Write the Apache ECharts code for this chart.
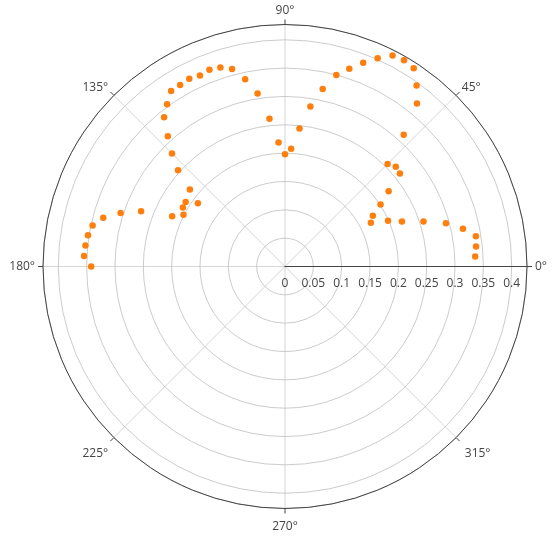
<!DOCTYPE html>
<html>
<head>
<meta charset="utf-8">
<script src="https://cdn.jsdelivr.net/npm/echarts@6/dist/echarts.min.js"></script>
<style>
html,body{margin:0;padding:0;background:#fff;}
#chart{width:552px;height:541px;}
</style>
</head>
<body>
<div id="chart"></div>
<script>
// angles in degrees
var thetaValues = [3,6,9,12,15,18,21,24,27,30,33,36,39,42,45,48,51,54,57,60,
  63,66,69,72,75,78,81,84,87,90,93,96,99,102,105,108,111,114,117,120,
  123,126,129,132,135,138,141,144,147,150,153,156,159,162,165,168,171,174,177,180];
// radial values
var rValues = [0.336,0.339,0.341,0.321,0.294,0.257,0.221,0.199,0.170,0.179,
  0.201,0.226,0.261,0.263,0.256,0.313,0.370,0.395,0.417,0.420,
  0.418,0.402,0.385,0.367,0.350,0.320,0.286,0.245,0.208,0.198,
  0.219,0.262,0.309,0.338,0.361,0.369,0.372,0.369,0.372,0.370,
  0.369,0.354,0.339,0.309,0.282,0.254,0.216,0.190,0.209,0.208,
  0.201,0.218,0.272,0.305,0.332,0.347,0.352,0.354,0.355,0.342];
var radialTicks = [0,0.05,0.1,0.15,0.2,0.25,0.3,0.35,0.4];
var angleTicks = [0,45,90,135,180,225,270,315];

var data = rValues.map(function(r,i){ return [r, thetaValues[i]]; });
var font = '"Open Sans", "Noto Sans", sans-serif';
var chart = echarts.init(document.getElementById('chart'), null, {renderer:'canvas'});
chart.setOption({
  backgroundColor:'#fff',
  animation:false,
  polar:{center:[285,266.5], radius:242},
  angleAxis:{
    type:'value', min:0, max:360, interval:45, startAngle:0, clockwise:false,
    axisLine:{show:true, lineStyle:{color:'#444', width:1}},
    axisTick:{show:true, length:5, lineStyle:{color:'#444'}},
    splitLine:{show:true, lineStyle:{color:'#bbb', width:0.6}},
    axisLabel:{margin:8, color:'#444', fontSize:12, fontFamily:font,
      formatter:function(v){
        if (angleTicks.indexOf(v) < 0) return '';
        if (v === 45 || v === 135) return '{u|' + v + '°}';
        if (v === 315) return '{r|' + v + '°}';
        if (v === 225 || v === 270) return '{d|' + v + '°}';
        return v + '°';
      },
      rich:{
        u:{lineHeight:4, color:'#444', fontSize:12, fontFamily:font},
        d:{padding:[4,0,0,0], color:'#444', fontSize:12, fontFamily:font},
        r:{padding:[4,0,0,3], color:'#444', fontSize:12, fontFamily:font}
      }}
  },
  radiusAxis:{
    type:'value', min:0, max:0.427, interval:0.05,
    axisLine:{show:true, lineStyle:{color:'#444', width:1}},
    axisTick:{show:false},
    splitLine:{show:true, lineStyle:{color:'#ccc', width:1}},
    axisLabel:{margin:-23, color:'#444', fontSize:12, fontFamily:font,
      formatter:function(v){
        for (var i=0;i<radialTicks.length;i++){ if (Math.abs(radialTicks[i]-v)<1e-6) return String(radialTicks[i]); }
        return '';
      }}
  },
  series:[{
    type:'scatter', coordinateSystem:'polar', data:data,
    symbol:'circle', symbolSize:6.5,
    itemStyle:{color:'#ff7f0e', opacity:1}
  }]
});
</script>
</body>
</html>
